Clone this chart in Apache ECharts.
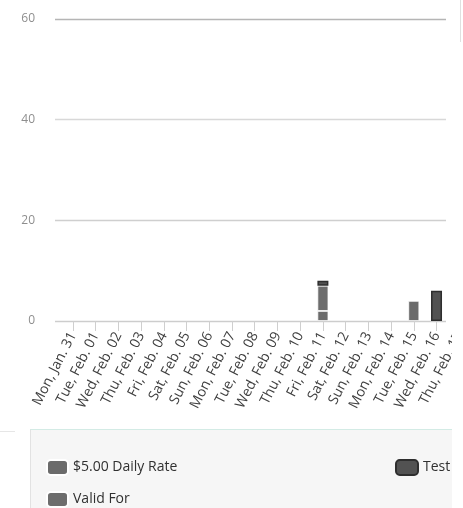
<!DOCTYPE html>
<html><head><meta charset="utf-8">
<script src="https://cdn.jsdelivr.net/npm/echarts@6/dist/echarts.min.js"></script>
<style>
html,body{margin:0;padding:0;background:#fff;}
#wrap{position:relative;width:463px;height:508px;overflow:hidden;background:#fff;}
#clip{position:absolute;left:0;top:0;width:452px;height:508px;overflow:hidden;}
#box{position:absolute;left:30px;top:429px;width:440px;height:120px;background:#f6f6f6;border:1px solid #e2e2e2;border-top:1px solid #d3ebe5;}
#chart{position:absolute;left:0;top:0;width:490px;height:508px;}
#lline{position:absolute;left:0;top:431px;width:15px;height:1px;background:#e6e6e6;}
#rline{position:absolute;left:460px;top:0;width:1px;height:42px;background:#e0e0e0;}
</style></head>
<body><div id="wrap"><div id="clip"><div id="box"></div><div id="chart"></div></div><div id="lline"></div><div id="rline"></div></div>
<script>
var categories = ["Mon, Jan. 31","Tue, Feb. 01","Wed, Feb. 02","Thu, Feb. 03","Fri, Feb. 04","Sat, Feb. 05","Sun, Feb. 06","Mon, Feb. 07","Tue, Feb. 08","Wed, Feb. 09","Thu, Feb. 10","Fri, Feb. 11","Sat, Feb. 12","Sun, Feb. 13","Mon, Feb. 14","Tue, Feb. 15","Wed, Feb. 16","Thu, Feb. 17"];
var dailyRate = [0,0,0,0,0,0,0,0,0,0,0,2,0,0,0,4,0,0];
var validFor  = [0,0,0,0,0,0,0,0,0,0,0,5,0,0,0,0,0,0];
var test      = [0,0,0,0,0,0,0,0,0,0,0,1,0,0,0,0,6,0];
var yTicks = {min:0, max:60, interval:20};

function nz(arr){ return arr.map(function(v){ return v === 0 ? null : v; }); }

var chart = echarts.init(document.getElementById('chart'), null, {renderer:'canvas'});
var font = '"Open Sans", "Noto Sans", sans-serif';
chart.setOption({
  animation:false,
  backgroundColor:'transparent',
  grid:[
    {left:55, right:44, top:19, bottom:187},
    {left:61.6, right:19.4, top:19, bottom:187}
  ],
  xAxis:[
    {gridIndex:0, type:'value', show:false, min:0, max:1},
    {gridIndex:1, type:'category', data:categories,
     axisLine:{show:false},
     axisTick:{show:true, alignWithLabel:true, length:10, lineStyle:{color:'#cfcfcf'}},
     axisLabel:{interval:0, rotate:63, margin:12, color:'#404040', fontSize:14, fontFamily:font}}
  ],
  yAxis:[
    {gridIndex:0, type:'value', min:yTicks.min, max:yTicks.max, interval:yTicks.interval,
     axisLine:{show:false}, axisTick:{show:false},
     axisLabel:{margin:20, color:'#8e8e8e', fontSize:12, fontFamily:font},
     splitLine:{show:true, lineStyle:{color:['#cdcdcd','#cfcfcf','#d8d8d8','#b5b5b5'], width:1.3}}},
    {gridIndex:1, type:'value', min:yTicks.min, max:yTicks.max, interval:yTicks.interval, show:false}
  ],
  legend:[
    {data:['$5.00 Daily Rate','Valid For'], orient:'vertical', left:46, top:459, padding:0,
     itemWidth:21, itemHeight:15, itemGap:15, icon:'roundRect',
     textStyle:{color:'#303030', fontSize:14, fontFamily:font}},
    {data:['Test'], orient:'vertical', left:395, top:459, padding:0,
     itemWidth:22, itemHeight:15, icon:'roundRect',
     textStyle:{color:'#303030', fontSize:14, fontFamily:font}}
  ],
  series:[
    {name:'$5.00 Daily Rate', type:'bar', stack:'a', xAxisIndex:1, yAxisIndex:1, barWidth:11,
     data:nz(dailyRate), itemStyle:{color:'#6b6b6b', borderColor:'#ffffff', borderWidth:0.8}},
    {name:'Valid For', type:'bar', stack:'a', xAxisIndex:1, yAxisIndex:1, barWidth:11,
     data:nz(validFor), itemStyle:{color:'#6d6d6d', borderColor:'#ffffff', borderWidth:0.8}},
    {name:'Test', type:'bar', stack:'a', xAxisIndex:1, yAxisIndex:1, barWidth:11,
     data:nz(test), itemStyle:{color:'#525252', borderColor:'#2e2e2e', borderWidth:1.5}}
  ]
});
</script></body></html>
